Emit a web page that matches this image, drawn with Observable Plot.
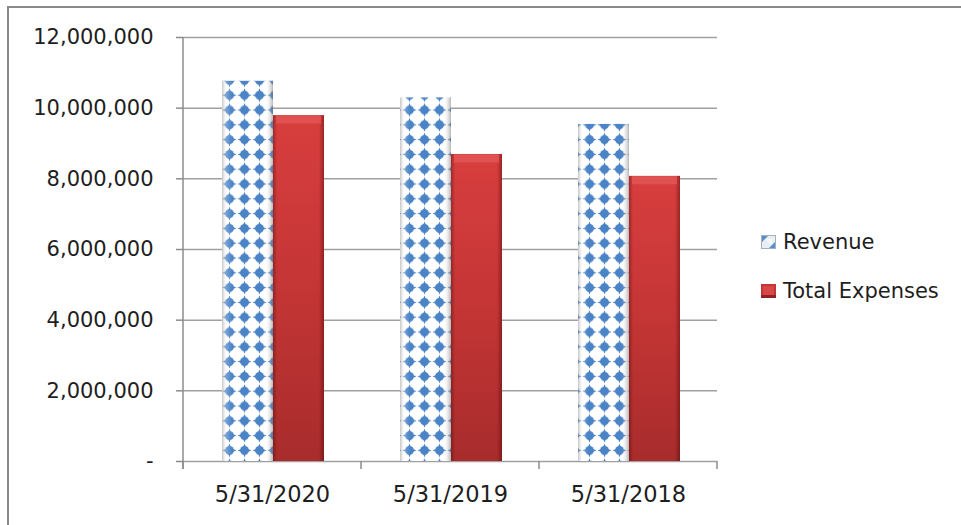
<!DOCTYPE html>
<html>
<head>
<meta charset="utf-8">
<script src="https://cdn.jsdelivr.net/npm/d3@7"></script>
<script src="https://cdn.jsdelivr.net/npm/@observablehq/plot@0.6"></script>
<style>
  html, body { margin: 0; padding: 0; background: #fff; }
  #wrap { position: relative; width: 961px; height: 525px; overflow: hidden; background: #fff; }
  #frame { position: absolute; left: 7px; top: 6px; width: 1100px; height: 1100px; border: 2px solid #8a8a8a; box-sizing: border-box; }
  #chart { position: absolute; left: 0; top: 0; }
  #legend { position: absolute; left: 761px; top: 226px; font-family: "DejaVu Sans", sans-serif; font-size: 21px; color: #1e1e1e; }
  .item { display: flex; align-items: center; height: 32px; margin-bottom: 17px; }
  .item svg { margin-right: 7px; }
</style>
</head>
<body>
<svg width="0" height="0" style="position:absolute">
  <defs>
    <pattern id="revPattern" patternUnits="userSpaceOnUse" x="-3" y="-1" width="15" height="14.8">
      <rect width="15" height="14.8" fill="#ffffff"/>
      <path d="M7.5,0.4 L9.4,5.4 L14.6,7.4 L9.4,9.4 L7.5,14.4 L5.6,9.4 L0.4,7.4 L5.6,5.4 Z" fill="#4a83c6"/>
      <circle cx="7.5" cy="7.4" r="4.4" fill="#4a83c6"/>
    </pattern>
    <linearGradient id="revEdges" x1="0" x2="1" y1="0" y2="0">
      <stop offset="0" stop-color="#7f7f7f" stop-opacity="0.45"/>
      <stop offset="0.08" stop-color="#ffffff" stop-opacity="0.25"/>
      <stop offset="0.2" stop-color="#ffffff" stop-opacity="0"/>
      <stop offset="0.85" stop-color="#ffffff" stop-opacity="0"/>
      <stop offset="1" stop-color="#6f6f6f" stop-opacity="0.5"/>
    </linearGradient>
    <linearGradient id="expFill" x1="0" x2="0" y1="0" y2="1">
      <stop offset="0" stop-color="#d83e3e"/>
      <stop offset="0.5" stop-color="#c43535"/>
      <stop offset="1" stop-color="#a82c2c"/>
    </linearGradient>
    <linearGradient id="expEdges" x1="0" x2="1" y1="0" y2="0">
      <stop offset="0" stop-color="#400000" stop-opacity="0.35"/>
      <stop offset="0.08" stop-color="#400000" stop-opacity="0"/>
      <stop offset="0.9" stop-color="#400000" stop-opacity="0"/>
      <stop offset="1" stop-color="#400000" stop-opacity="0.4"/>
    </linearGradient>
  </defs>
</svg>
<div id="wrap">
  <div id="frame"></div>
  <div id="chart"></div>
  <div id="legend"></div>
</div>
<script>
const categories = ["5/31/2020", "5/31/2019", "5/31/2018"];
const seriesNames = ["Revenue", "Total Expenses"];
const revenue = [10760000, 10290000, 9540000];
const expenses = [9790000, 8690000, 8070000];
const yTicks = [0, 2000000, 4000000, 6000000, 8000000, 10000000, 12000000];

const data = categories.map((c, i) => ({date: c, revenue: revenue[i], expenses: expenses[i]}));
const fmt = d => d === 0 ? "-" : d3.format(",")(d);

function structure(index, scales) {
  const x = scales.x, y = scales.y;
  const bw = x.bandwidth ? x.bandwidth() : (x(categories[1]) - x(categories[0]));
  const edges = categories.map(c => x(c)).concat([x(categories[categories.length - 1]) + bw]);
  const g = d3.create("svg:g").attr("stroke", "#8c8c8c").attr("stroke-width", 1.5);
  const y0 = y(0);
  g.append("line").attr("x1", edges[0]).attr("x2", edges[0]).attr("y1", y(yTicks[yTicks.length - 1])).attr("y2", y0 + 8);
  edges.forEach(e => g.append("line").attr("x1", e).attr("x2", e).attr("y1", y0).attr("y2", y0 + 8));
  return g.node();
}

const chart = Plot.plot({
  width: 961,
  height: 525,
  marginLeft: 183,
  marginRight: 244,
  marginTop: 37,
  marginBottom: 64,
  style: {fontFamily: "DejaVu Sans, sans-serif", fontSize: "21px", color: "#1e1e1e", background: "transparent", overflow: "visible"},
  x: {domain: categories, padding: 0, label: null},
  y: {domain: [0, 12000000], label: null},
  marks: [
    Plot.gridY(yTicks, {stroke: "#a0a0a0", strokeOpacity: 1, strokeWidth: 1.5}),
    Plot.barY(data, {x: "date", y: "revenue", fill: "url(#revPattern)", insetLeft: 39, insetRight: 88}),
    Plot.barY(data, {x: "date", y: "revenue", fill: "url(#revEdges)", insetLeft: 39, insetRight: 88}),
    Plot.barY(data, {x: "date", y: "expenses", fill: "url(#expFill)", insetLeft: 90, insetRight: 37}),
    Plot.barY(data, {x: "date", y: "expenses", fill: "url(#expEdges)", insetLeft: 90, insetRight: 37}),
    Plot.tickY(data, {x: "date", y: "expenses", stroke: "#e25858", strokeWidth: 8, dy: 4, insetLeft: 93, insetRight: 40, strokeOpacity: 0.8}),
    structure,
    Plot.axisY(yTicks, {tickSize: 7, tickPadding: 23, tickFormat: fmt, stroke: "#8c8c8c", fill: "#1e1e1e", strokeWidth: 1.5}),
    Plot.axisX({tickSize: 0, tickPadding: 25, fill: "#1e1e1e", fontSize: 22.5})
  ]
});
document.getElementById("chart").appendChild(chart);

// Legend
const legend = document.getElementById("legend");
const swatches = [
  `<svg width="15" height="14"><rect x="0.5" y="0.5" width="14" height="13" fill="#e9eef5" stroke="#a8b0ba"/><path d="M1,1 L7,1 L1,7 Z" fill="#5a8fcf"/><path d="M14,13 L8,13 L14,7 Z" fill="#5a8fcf"/><path d="M4,4 L11,4 L11,10 Z" fill="#ffffff" opacity="0.7"/></svg>`,
  `<svg width="15" height="14"><rect x="0" y="0" width="15" height="14" fill="#c43535"/><rect x="2" y="2" width="11" height="10" fill="#d94848"/><rect x="0" y="11" width="15" height="3" fill="#8f2222"/></svg>`
];
seriesNames.forEach((name, i) => {
  const div = document.createElement("div");
  div.className = "item";
  div.innerHTML = swatches[i] + `<span>${name}</span>`;
  legend.appendChild(div);
});
</script>
</body>
</html>
